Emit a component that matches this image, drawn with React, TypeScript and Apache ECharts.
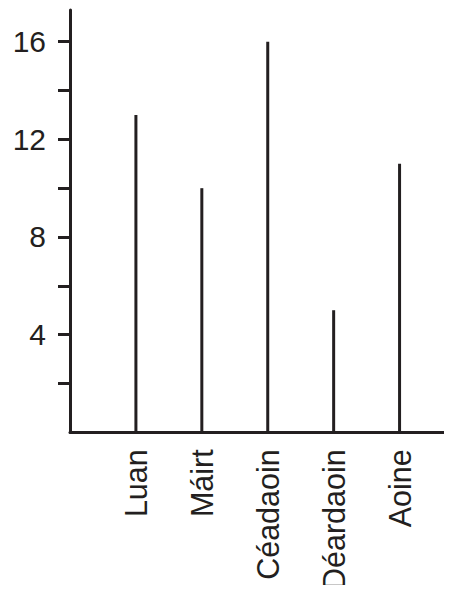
import React, { useEffect, useRef } from "react";
import * as echarts from "echarts";

const categories = ["Luan", "Máirt", "Céadaoin", "Déardaoin", "Aoine"];
const values = [13, 10, 16, 5, 11];
const yTicks = [2, 4, 6, 8, 10, 12, 14, 16];
const yLabels = [4, 8, 12, 16];

const INK = "#231f20";
const FONT = "Liberation Sans, Arial, Helvetica, sans-serif";

export default function App() {
  const ref = useRef<HTMLDivElement>(null);
  useEffect(() => {
    if (!ref.current) return;
    const chart = echarts.init(ref.current, null, { renderer: "svg" });
    chart.setOption({
      animation: false,
      backgroundColor: "#ffffff",
      grid: { left: 70, right: 3, top: 10, bottom: 159 },
      xAxis: {
        type: "value",
        min: 0,
        max: 5.75,
        splitLine: { show: false },
        axisLine: { show: true, lineStyle: { color: INK, width: 3 } },
        axisTick: { show: false },
        axisLabel: {
          customValues: categories.map((_, i) => i + 1),
          formatter: (v: number) => categories[Math.round(v) - 1] ?? "",
          rotate: 90,
          margin: 17,
          fontSize: 30.5,
          fontFamily: FONT,
          color: INK,
        },
      },
      yAxis: {
        type: "value",
        min: 0,
        max: 17.3,
        splitLine: { show: false },
        axisLine: { show: true, lineStyle: { color: INK, width: 3 } },
        axisTick: {
          show: true,
          customValues: yTicks,
          length: 12,
          lineStyle: { color: INK, width: 3 },
        },
        axisLabel: {
          customValues: yLabels,
          margin: 24,
          fontSize: 30,
          fontFamily: FONT,
          color: INK,
        },
      },
      series: [
        {
          type: "bar",
          barWidth: 3,
          itemStyle: { color: INK },
          data: values.map((v, i) => [i + 1, v]),
        },
      ],
    });
    return () => chart.dispose();
  }, []);
  return <div ref={ref} style={{ width: 452, height: 593, margin: -8 }} />;
}
